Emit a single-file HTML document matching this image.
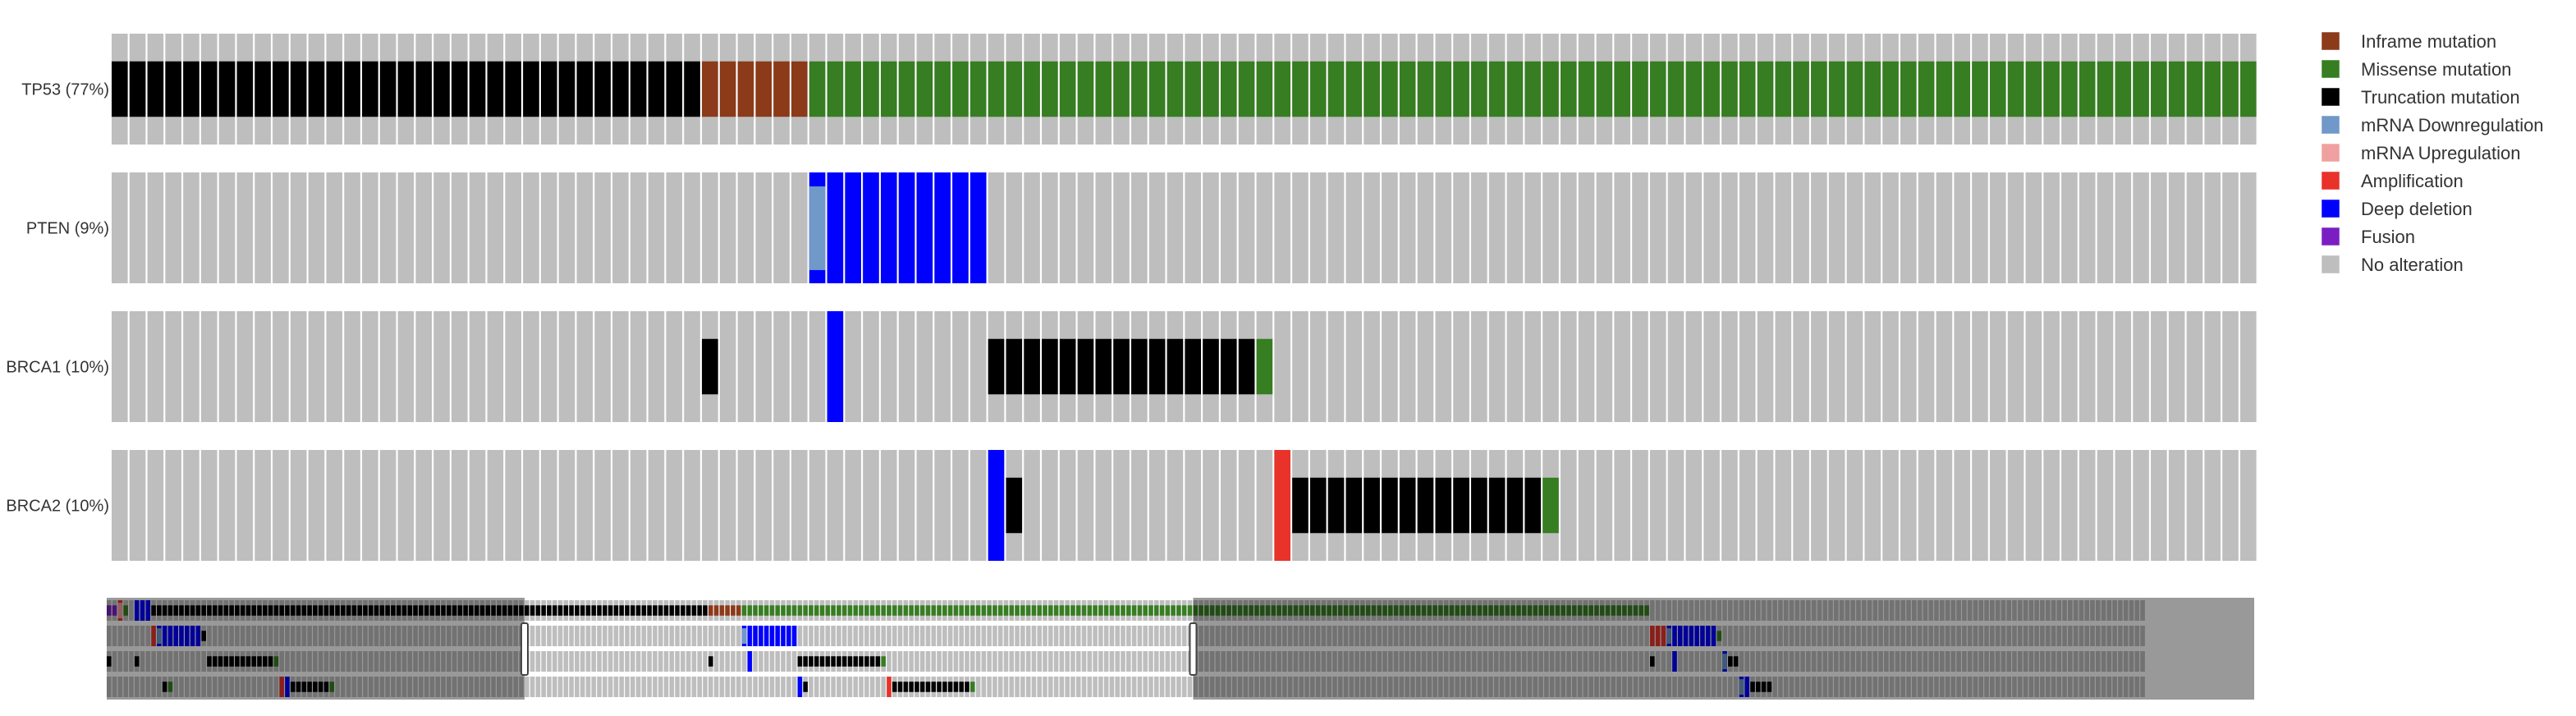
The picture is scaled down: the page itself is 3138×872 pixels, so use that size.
<!DOCTYPE html>
<html><head><meta charset="utf-8"><style>
html,body{margin:0;padding:0;background:#fff;}
svg{display:block;}
text{font-family:"Liberation Sans",sans-serif;}
</style></head><body>
<svg id="chart" width="3138" height="872" viewBox="0 0 3138 872" xmlns="http://www.w3.org/2000/svg"></svg>
<script>
const genes = ["TP53","PTEN","BRCA1","BRCA2"];
const geneLabels = ["TP53 (77%)","PTEN (9%)","BRCA1 (10%)","BRCA2 (10%)"];
const totalSamples = 366;
const viewStart = 75;
const viewCount = 120;
// events: [geneIndex, startSample, endSample, type]
const cnaEvents = [
 [0,2,2,"amp"],[0,5,7,"deep"],
 [1,8,8,"amp"],[1,9,16,"deep"],[1,114,123,"deep"],[1,277,279,"amp"],[1,280,288,"deep"],
 [2,115,115,"deep"],[2,281,281,"deep"],[2,290,290,"deep"],
 [3,32,32,"deep"],[3,31,31,"amp"],[3,124,124,"deep"],[3,140,140,"amp"],[3,293,294,"deep"]
];
const mrnaEvents = [
 [0,2,2,"mrnaUp"],[1,9,9,"mrnaDown"],[1,114,114,"mrnaDown"],[1,280,280,"mrnaDown"],
 [2,290,290,"mrnaDown"],[3,293,293,"mrnaDown"]
];
const mutEvents = [
 [0,0,1,"fusion"],[0,3,3,"missense"],[0,8,107,"trunc"],[0,108,113,"inframe"],[0,114,276,"missense"],
 [1,17,17,"trunc"],[1,289,289,"missense"],
 [2,0,0,"trunc"],[2,5,5,"trunc"],[2,18,29,"trunc"],[2,30,30,"missense"],[2,108,108,"trunc"],
 [2,124,138,"trunc"],[2,139,139,"missense"],[2,277,277,"trunc"],[2,291,292,"trunc"],
 [3,10,10,"trunc"],[3,11,11,"missense"],[3,33,39,"trunc"],[3,40,40,"missense"],[3,125,125,"trunc"],
 [3,141,154,"trunc"],[3,155,155,"missense"],[3,295,298,"trunc"]
];
const legendLabels = ["Inframe mutation","Missense mutation","Truncation mutation","mRNA Downregulation","mRNA Upregulation","Amplification","Deep deletion","Fusion","No alteration"];
const legendTypes = ["inframe","missense","trunc","mrnaDown","mrnaUp","amp","deep","fusion","none"];

const colors = {inframe:"#8b3a1a",missense:"#377d22",trunc:"#000000",mrnaDown:"#7098c8",mrnaUp:"#f0a0a0",amp:"#e8322a",deep:"#0000ff",fusion:"#7a1ec4",none:"#bebebe"};
const svg = document.getElementById('chart');
const NS = "http://www.w3.org/2000/svg";
function rect(parent,x,y,w,h,fill,name){
  const r=document.createElementNS(NS,'rect');
  r.setAttribute('x',x);r.setAttribute('y',y);r.setAttribute('width',w);r.setAttribute('height',h);r.setAttribute('fill',fill);
  
  
  parent.appendChild(r);return r;
}
// main view scales
const mainX0=136, mainPitch=21.79, mainW=19.6, rowTop0=41, rowStep=169, rowH=135;
function mx(s){return mainX0+(s-viewStart)*mainPitch;}
function my(g){return rowTop0+g*rowStep;}
// minimap scales
const miniX0=130, miniPitch=6.787, miniW=5.6, miniTop0=731, miniStep=31, miniH=25;
function nx(s){return miniX0+s*miniPitch;}
function ny(g){return miniTop0+g*miniStep;}

function drawTrack(g, xf, yf, pitchW, h, s0, s1, name, parent){
  const grp=document.createElementNS(NS,'g');
  
  
  parent.appendChild(grp);
  for(let s=s0;s<s1;s++) rect(grp,xf(s),yf(g),pitchW,h,colors.none,'sample-cell');
  const inRange=s=>s>=s0&&s<s1;
  cnaEvents.forEach(e=>{if(e[0]!==g)return;for(let s=e[1];s<=e[2];s++) if(inRange(s)) rect(grp,xf(s),yf(g),pitchW,h,colors[e[3]],e[3]+'-cell');});
  mrnaEvents.forEach(e=>{if(e[0]!==g)return;for(let s=e[1];s<=e[2];s++) if(inRange(s)) rect(grp,xf(s),yf(g)+h*0.126,pitchW,h*0.755,colors[e[3]],e[3]+'-cell');});
  mutEvents.forEach(e=>{if(e[0]!==g)return;for(let s=e[1];s<=e[2];s++) if(inRange(s)) rect(grp,xf(s),yf(g)+h*0.25,pitchW,h*0.5,colors[e[3]],e[3]+'-cell');});
}
// main tracks
const main=document.createElementNS(NS,'g');


svg.appendChild(main);
genes.forEach((gname,g)=>{
  const t=document.createElementNS(NS,'text');
  t.setAttribute('x',133);t.setAttribute('y',my(g)+rowH/2+7);t.setAttribute('text-anchor','end');
  t.setAttribute('font-size','20');t.setAttribute('fill','#333');
  
  
  t.textContent=geneLabels[g];main.appendChild(t);
  drawTrack(g,mx,my,mainW,rowH,viewStart,viewStart+viewCount,'track-'+gname.toLowerCase(),main);
});
// minimap
const mini=document.createElementNS(NS,'g');


svg.appendChild(mini);
genes.forEach((gname,g)=>drawTrack(g,nx,ny,miniW,miniH,0,totalSamples,'minimap-track-'+gname.toLowerCase(),mini));
const winL=nx(viewStart), winR=nx(viewStart+viewCount), miniRight=2746;
rect(mini,130,728,winL-130,124,'rgba(0,0,0,0.4)','minimap-overlay-left');
rect(mini,winR,728,miniRight-winR,124,'rgba(0,0,0,0.4)','minimap-overlay-right');
[winL,winR].forEach((x,i)=>{
  const h=rect(mini,x-4,759,8,63,'#fff',i?'minimap-handle-right':'minimap-handle-left');
  h.setAttribute('stroke','#444');h.setAttribute('stroke-width','2');h.setAttribute('rx','2');
  
});
// legend
const leg=document.createElementNS(NS,'g');


svg.appendChild(leg);
legendLabels.forEach((lab,i)=>{
  const cy=50+i*34;
  const sw=rect(leg,2828,cy-11,22,22,colors[legendTypes[i]],'legend-swatch');
  sw.setAttribute('stroke','rgba(255,255,255,0.5)');sw.setAttribute('stroke-width','1');
  const t=document.createElementNS(NS,'text');
  t.setAttribute('x',2876);t.setAttribute('y',cy+8);t.setAttribute('font-size','22');t.setAttribute('fill','#333');
  
  
  t.textContent=lab;leg.appendChild(t);
});
</script>
</body></html>
